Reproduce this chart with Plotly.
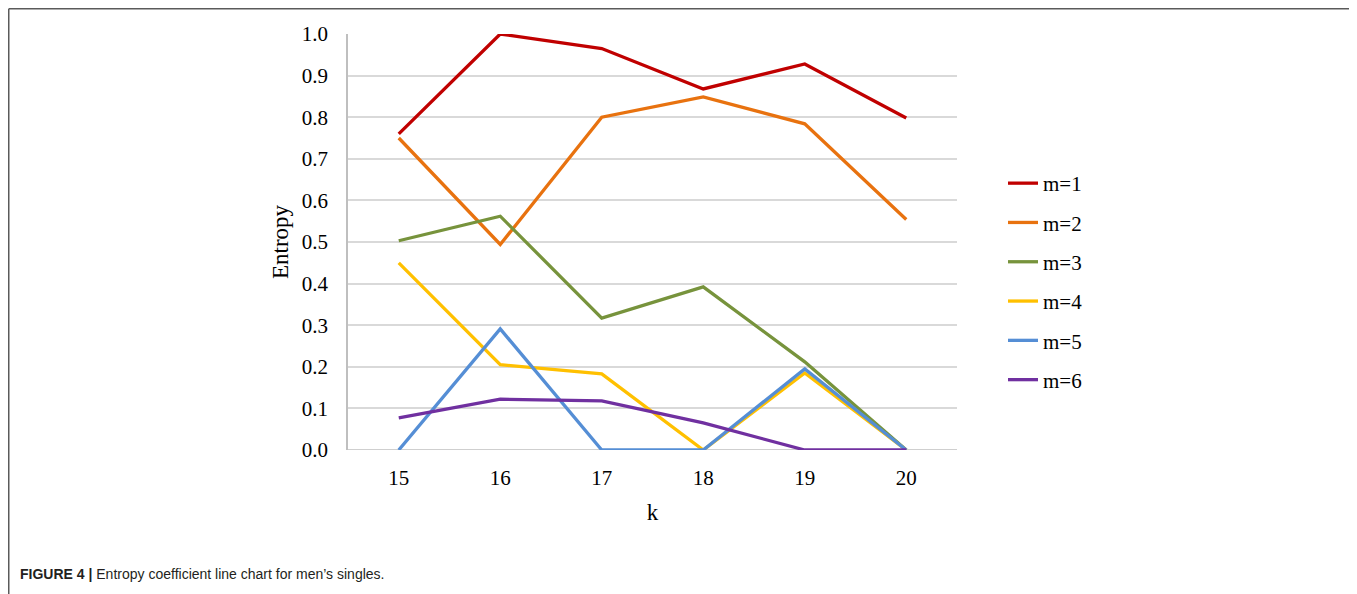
import plotly.graph_objects as go

k_values = [15, 16, 17, 18, 19, 20]
series_names = ["m=1", "m=2", "m=3", "m=4", "m=5", "m=6"]
m1 = [0.760, 1.000, 0.965, 0.868, 0.928, 0.798]
m2 = [0.750, 0.494, 0.800, 0.849, 0.784, 0.554]
m3 = [0.503, 0.562, 0.317, 0.392, 0.212, 0.000]
m4 = [0.450, 0.205, 0.183, 0.000, 0.185, 0.000]
m5 = [0.000, 0.291, 0.000, 0.000, 0.195, 0.000]
m6 = [0.077, 0.122, 0.118, 0.065, 0.000, 0.000]
series_values = [m1, m2, m3, m4, m5, m6]
colors = ["#C00000", "#E8720F", "#77933C", "#FFC000", "#558ED5", "#7030A0"]
y_ticks = [0.0, 0.1, 0.2, 0.3, 0.4, 0.5, 0.6, 0.7, 0.8, 0.9, 1.0]
y_tick_labels = [f"{v:.1f}" for v in y_ticks]

serif = "Liberation Serif, Times New Roman, serif"

fig = go.Figure()
for name, vals, col in zip(series_names, series_values, colors):
    fig.add_trace(go.Scatter(
        x=k_values, y=vals, name=name, mode="lines",
        line=dict(color=col, width=3.3), legendgroup=name,
    ))

# the page body has an 8px margin; figure is placed at page (8, 8)
OFF = 8
W, H = 1357 - OFF, 594 - OFF
L, R, T, B = 348 - OFF, 957 - OFF, 34 - OFF, 450 - OFF

def px(x):  # page x -> paper
    return (x - OFF - L) / (R - L)

def py(y):  # page y -> paper
    return (B - (y - OFF)) / (B - T)

frame = dict(color="#5a5a5a", width=1.5)
left_x = (0.75 - L) / (R - L)
top_y = (B - 0.75) / (B - T)
right_x = px(1355)
bot_y = py(620)
shapes = [
    dict(type="line", xref="paper", yref="paper", x0=left_x, x1=left_x, y0=top_y, y1=bot_y, line=frame),
    dict(type="line", xref="paper", yref="paper", x0=left_x, x1=right_x, y0=top_y, y1=top_y, line=frame),
    dict(type="line", xref="paper", yref="paper", x0=right_x, x1=right_x, y0=top_y, y1=bot_y, line=frame),
    dict(type="line", xref="paper", yref="y", x0=0, x1=1, y0=0, y1=0,
         line=dict(color="#BFBFBF", width=1.5), layer="below"),
]

fig.update_layout(
    width=W, height=H,
    margin=dict(l=L, r=W - R, t=T, b=H - B),
    paper_bgcolor="white", plot_bgcolor="white",
    font=dict(family=serif, size=21, color="#000000"),
    showlegend=True,
    legend=dict(
        x=px(1003), y=py(281.5), xanchor="left", yanchor="middle",
        font=dict(family=serif, size=21, color="#000000"),
        traceorder="grouped", tracegroupgap=9,
        bgcolor="rgba(0,0,0,0)",
    ),
    xaxis=dict(
        range=[14.5, 20.5], tickmode="array", tickvals=k_values,
        ticktext=[str(k) for k in k_values],
        showgrid=False, zeroline=False, showline=False,
        ticks="", ticklabelstandoff=13,
        title=dict(text="k", font=dict(family=serif, size=23), standoff=14),
        fixedrange=True,
    ),
    yaxis=dict(
        range=[0, 1.0], tickmode="array", tickvals=y_ticks, ticktext=y_tick_labels,
        showgrid=True, gridcolor="#D9D9D9", gridwidth=1.5,
        zeroline=False, showline=True, linecolor="#BFBFBF", linewidth=1.5,
        ticks="", ticklabelstandoff=14,
        title=dict(text="Entropy", font=dict(family=serif, size=23), standoff=7),
        fixedrange=True,
    ),
    shapes=shapes,
    annotations=[
        dict(
            xref="paper", yref="paper", x=px(18), y=py(574),
            xanchor="left", yanchor="middle", showarrow=False,
            text="<b>FIGURE 4</b> <b>|</b> Entropy coefficient line chart for men\u2019s singles.",
            font=dict(family="Liberation Sans Narrow, Arial Narrow, Liberation Sans, Arial, sans-serif",
                      size=14, color="#231f20"),
        )
    ],
)

fig.write_html("out.html")
